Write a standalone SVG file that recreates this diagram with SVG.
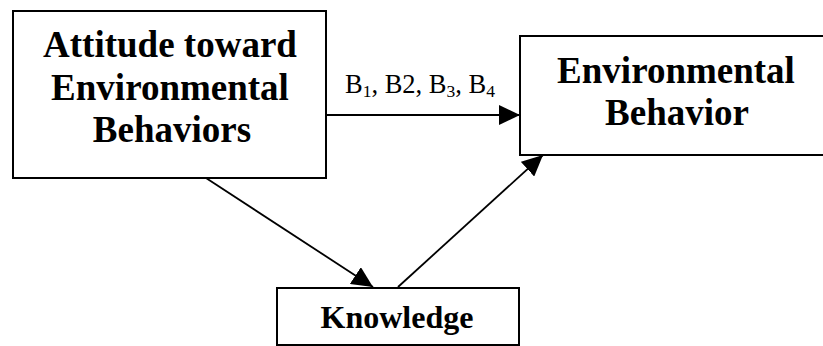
<svg xmlns="http://www.w3.org/2000/svg" width="823" height="346" viewBox="0 0 823 346">
<style>
.box{fill:#fff;stroke:#000;stroke-width:2}
.t{font-family:"Liberation Serif","Times New Roman",serif;font-weight:bold;font-size:37px;text-anchor:middle;fill:#000}
.lbl{font-family:"Liberation Serif","Times New Roman",serif;font-size:26.5px;fill:#000}
.edge{stroke:#000;stroke-width:1.8;fill:none;marker-end:url(#ah)}
</style>
<defs>
<marker id="ah" markerUnits="userSpaceOnUse" markerWidth="22" markerHeight="20" refX="21" refY="10" orient="auto">
<path d="M0,0 L21,10 L0,20 Z" fill="#000"/>
</marker>
</defs>
<rect width="823" height="346" fill="#fff"/>
<g id="attitude">
<rect class="box" x="13" y="11" width="313" height="167"/>
<text class="t" x="170" y="57">Attitude toward</text>
<text class="t" x="170" y="100">Environmental</text>
<text class="t" x="172" y="142">Behaviors</text>
</g>
<g id="behavior">
<rect class="box" x="520" y="36" width="320" height="119"/>
<text class="t" x="676" y="83">Environmental</text>
<text class="t" x="677" y="125">Behavior</text>
</g>
<g id="knowledge">
<rect class="box" x="277" y="288" width="242" height="57"/>
<text class="t" x="397" y="328" style="font-size:32px">Knowledge</text>
</g>
<g id="connectors">
<line class="edge" x1="326" y1="115" x2="520" y2="115"/>
<line class="edge" x1="206" y1="178" x2="373" y2="287"/>
<line class="edge" x1="398" y1="287" x2="543" y2="155"/>
<text class="lbl" x="345" y="93">B<tspan font-size="17.5" dy="4">1</tspan><tspan dy="-4">, B2, B</tspan><tspan font-size="17.5" dy="4">3</tspan><tspan dy="-4">, B</tspan><tspan font-size="17.5" dy="4">4</tspan></text>
</g>
</svg>
